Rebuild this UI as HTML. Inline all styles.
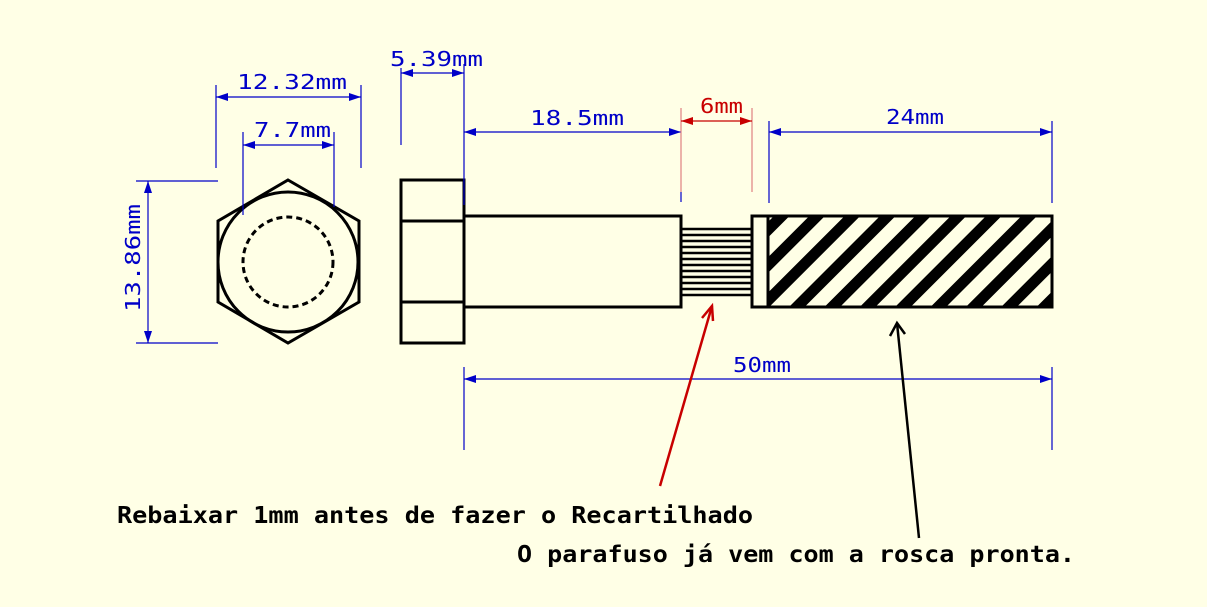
<!DOCTYPE html>
<html><head><meta charset="utf-8"><style>
html,body{margin:0;padding:0;background:#ffffe6}
svg{display:block}
.dim{font-family:"DejaVu Sans Mono","Liberation Mono",monospace;font-size:20px;fill:#0000c8}
.note{font-family:"DejaVu Sans Mono","Liberation Mono",monospace;font-size:23px;font-weight:bold;fill:#000}
</style></head><body>
<svg width="1207" height="607" viewBox="0 0 1207 607">
<defs>
<pattern id="hatch" width="25" height="25" patternUnits="userSpaceOnUse" patternTransform="rotate(45)">
<rect x="0" y="0" width="25" height="25" fill="#ffffe6"/><rect x="0" y="0" width="11" height="25" fill="#000"/>
</pattern>
<marker id="ab" markerWidth="12" markerHeight="8" refX="12" refY="4" orient="auto-start-reverse" markerUnits="userSpaceOnUse"><path d="M0,0 L12,4 L0,8 Z" fill="#0000c8"/></marker>
<marker id="ar" markerWidth="12" markerHeight="8" refX="12" refY="4" orient="auto-start-reverse" markerUnits="userSpaceOnUse"><path d="M0,0 L12,4 L0,8 Z" fill="#c80000"/></marker>
</defs>
<rect width="1207" height="607" fill="#ffffe6"/>

<g fill="none" stroke="#000" stroke-width="3">
<polygon points="288,180 359,221 359,302 288,343 218,302 218,221"/>
<circle cx="288" cy="262" r="70"/>
<circle cx="288" cy="262" r="45" stroke-dasharray="6,4"/>
</g>

<g fill="none" stroke="#000" stroke-width="3">
<rect x="401" y="180" width="63" height="163"/>
<line x1="401" y1="221" x2="464" y2="221"/><line x1="401" y1="302" x2="464" y2="302"/>
<rect x="464" y="216" width="217" height="91"/>
<rect x="768" y="216" width="284" height="91" fill="url(#hatch)"/>
<rect x="752" y="216" width="300" height="91"/>
<line x1="768" y1="216" x2="768" y2="307"/>
<g stroke-width="2.5">
<line x1="681" y1="229" x2="752" y2="229"/><line x1="681" y1="235" x2="752" y2="235"/><line x1="681" y1="241" x2="752" y2="241"/><line x1="681" y1="247" x2="752" y2="247"/><line x1="681" y1="253" x2="752" y2="253"/><line x1="681" y1="259" x2="752" y2="259"/><line x1="681" y1="265" x2="752" y2="265"/><line x1="681" y1="271" x2="752" y2="271"/><line x1="681" y1="277" x2="752" y2="277"/><line x1="681" y1="283" x2="752" y2="283"/><line x1="681" y1="289" x2="752" y2="289"/><line x1="681" y1="295" x2="752" y2="295"/>
</g>
</g>

<g stroke="#0000c8" stroke-width="1.2" fill="none">
<line x1="136" y1="181" x2="218" y2="181"/><line x1="136" y1="343" x2="218" y2="343"/>
<line x1="148" y1="181" x2="148" y2="343" marker-start="url(#ab)" marker-end="url(#ab)"/>
<line x1="216" y1="85" x2="216" y2="168"/><line x1="361" y1="85" x2="361" y2="168"/>
<line x1="216" y1="97" x2="361" y2="97" marker-start="url(#ab)" marker-end="url(#ab)"/>
<line x1="243" y1="132" x2="243" y2="215"/><line x1="334" y1="132" x2="334" y2="207"/>
<line x1="243" y1="145" x2="334" y2="145" marker-start="url(#ab)" marker-end="url(#ab)"/>
<line x1="401" y1="68" x2="401" y2="145"/><line x1="464" y1="64" x2="464" y2="205"/>
<line x1="401" y1="73" x2="464" y2="73" marker-start="url(#ab)" marker-end="url(#ab)"/>
<line x1="681" y1="192" x2="681" y2="202"/>
<line x1="464" y1="132" x2="681" y2="132" marker-start="url(#ab)" marker-end="url(#ab)"/>
<line x1="769" y1="121" x2="769" y2="203"/><line x1="1052" y1="121" x2="1052" y2="203"/>
<line x1="769" y1="132" x2="1052" y2="132" marker-start="url(#ab)" marker-end="url(#ab)"/>
<line x1="464" y1="367" x2="464" y2="450"/><line x1="1052" y1="367" x2="1052" y2="450"/>
<line x1="464" y1="379" x2="1052" y2="379" marker-start="url(#ab)" marker-end="url(#ab)"/>
</g>
<g stroke="#c80000" stroke-width="1.2" fill="none">
<line x1="681" y1="108" x2="681" y2="192" stroke="#e08080"/><line x1="752" y1="108" x2="752" y2="192" stroke="#e08080"/>
<line x1="681" y1="121" x2="752" y2="121" marker-start="url(#ar)" marker-end="url(#ar)"/>
</g>

<text class="dim" transform="translate(140,258) rotate(-90)" text-anchor="middle" textLength="108" lengthAdjust="spacingAndGlyphs">13.86mm</text>
<text class="dim" x="237" y="89" textLength="110" lengthAdjust="spacingAndGlyphs">12.32mm</text>
<text class="dim" x="254" y="137" textLength="77" lengthAdjust="spacingAndGlyphs">7.7mm</text>
<text class="dim" x="390" y="66" textLength="93" lengthAdjust="spacingAndGlyphs">5.39mm</text>
<text class="dim" x="530" y="125" textLength="94" lengthAdjust="spacingAndGlyphs">18.5mm</text>
<text class="dim" x="700" y="113" textLength="43" lengthAdjust="spacingAndGlyphs" style="fill:#c80000">6mm</text>
<text class="dim" x="886" y="124" textLength="58" lengthAdjust="spacingAndGlyphs">24mm</text>
<text class="dim" x="733" y="372" textLength="58" lengthAdjust="spacingAndGlyphs">50mm</text>

<g stroke="#c80000" stroke-width="2.5" fill="none">
<line x1="660" y1="486" x2="712" y2="306"/><polyline points="702,318 712,306 713,321"/>
</g>
<g stroke="#000" stroke-width="2.5" fill="none">
<line x1="919" y1="538" x2="897" y2="323"/><polyline points="890,336 897,323 905,334"/>
</g>

<text class="note" x="117" y="523" textLength="636" lengthAdjust="spacingAndGlyphs">Rebaixar 1mm antes de fazer o Recartilhado</text>
<text class="note" x="517" y="562" textLength="558" lengthAdjust="spacingAndGlyphs">O parafuso já vem com a rosca pronta.</text>
</svg>
</body></html>
